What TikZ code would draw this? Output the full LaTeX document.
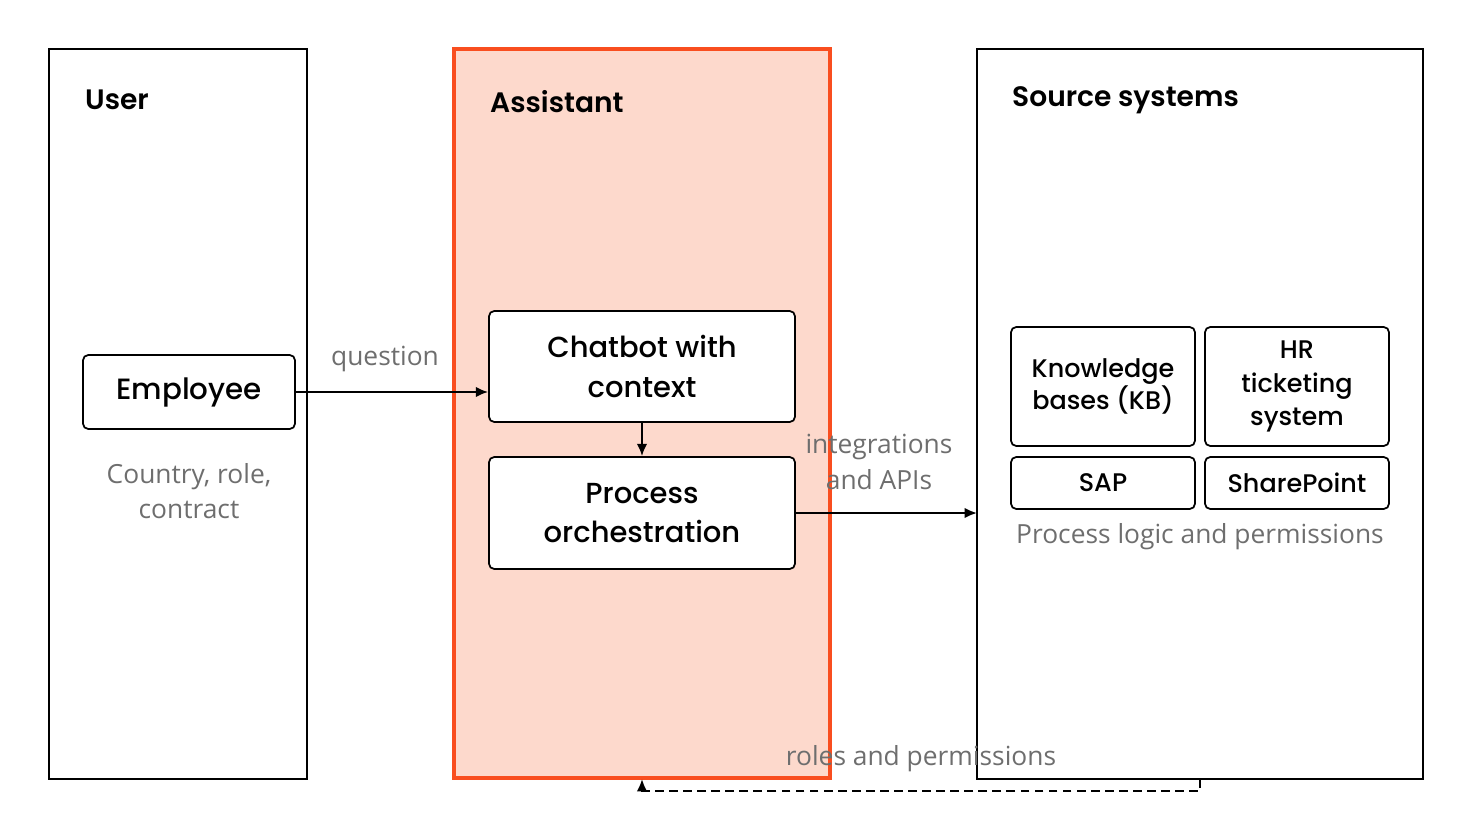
\documentclass[tikz,border=0pt]{standalone}
\usepackage{fontspec}
\setmainfont{Poppins}[UprightFont=* Medium, BoldFont=* SemiBold]
\newfontfamily\labelfont{Open Sans}
\usetikzlibrary{positioning,arrows.meta}
\definecolor{peach}{HTML}{FDD9CC}
\definecolor{orangered}{HTML}{F94E1F}
\definecolor{labelgray}{HTML}{6E6E6E}
\tikzset{
    lane/.style={draw=black, line width=1pt},
    box/.style={draw=black, line width=1pt, rounded corners=3pt, align=center, font=\fontsize{14}{17}\selectfont},
    title/.style={anchor=west, font=\fontsize{16}{19}\selectfont\bfseries},
    note/.style={text=labelgray, align=center, font=\labelfont\fontsize{15}{20}\selectfont},
    link/.style={-{Latex[length=7pt,width=6pt]}, line width=1.2pt}
}
\begin{document}
\begin{tikzpicture}[x=0.02cm,y=-0.02cm]
        \useasboundingbox (0,0) rectangle (1472,828);

        % lanes
        \draw[lane] (49,49) rectangle (307,779);
        \draw[draw=orangered, fill=peach, line width=2pt] (454,49) rectangle (830,778);
        \draw[lane] (977,49) rectangle (1423,779);
        \node[title] at (79,100) {User};
        \node[title] at (484,102) {Assistant};
        \node[title] at (1006,100) {Source systems};

        % boxes
        \node[box, minimum width=212*0.02cm, minimum height=74*0.02cm, font=\fontsize{16.7}{19}\selectfont] (employee) at (189,392) {Employee};
        \node[box, fill=white, minimum width=306*0.02cm, minimum height=111*0.02cm, font=\fontsize{16.5}{22.5}\selectfont] (chatbot) at (642,366.5) {Chatbot with\\context};
        \node[box, fill=white, minimum width=306*0.02cm, minimum height=112*0.02cm, font=\fontsize{16.5}{22.5}\selectfont] (process) at (642,513) {Process\\orchestration};
        \node[box, minimum width=184*0.02cm, minimum height=119*0.02cm, font=\fontsize{14.5}{18}\selectfont] (kb) at (1103,386.5) {Knowledge\\bases (KB)};
        \node[box, minimum width=184*0.02cm, minimum height=119*0.02cm, font=\fontsize{14.5}{19}\selectfont] (hr) at (1297,386.5) {HR\\ticketing\\system};
        \node[box, minimum width=184*0.02cm, minimum height=52*0.02cm, font=\fontsize{14.5}{16}\selectfont] (sap) at (1103,483) {SAP};
        \node[box, minimum width=184*0.02cm, minimum height=52*0.02cm, font=\fontsize{14.5}{16}\selectfont] (sharepoint) at (1297,483) {SharePoint};
        \coordinate (source) at (977,513);
        \coordinate (feedback) at (1200,779);
        \coordinate (assistant) at (642,779);

        % labels
        \node[note] at (189,491) {Country, role,\\contract};
        \node[note] at (385,359) {question};
        \node[note] at (879,462) {integrations\\and APIs};
        \node[note] at (921,759) {roles and permissions};
        \node[note] at (1200,537) {Process logic and permissions};

        % connectors
        \draw[link] (employee.east) -- (employee.east -| chatbot.west);
        \draw[link] (chatbot.south) -- (process.north);
        \draw[link] (process.east |- source) -- (source);
        \draw[link, dash pattern=on 5pt off 3pt] (feedback) -- ++(0,12) -| (assistant);
    \end{tikzpicture}
\end{document}
